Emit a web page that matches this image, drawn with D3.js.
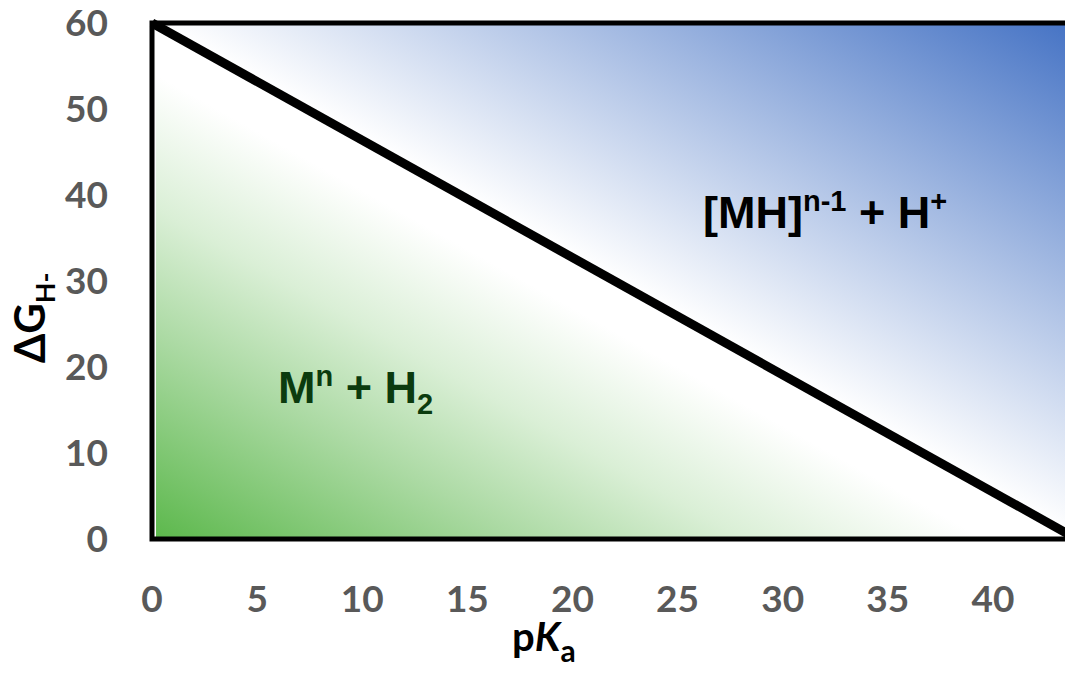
<!DOCTYPE html>
<html>
<head>
<meta charset="utf-8">
<script src="https://cdn.jsdelivr.net/npm/d3@7"></script>
<style>
  html, body { margin: 0; padding: 0; background: #fff; }
  svg { display: block; }
</style>
</head>
<body>
<div id="chart"></div>
<script>
// data
const xTicks = [0, 5, 10, 15, 20, 25, 30, 35, 40];
const yTicks = [0, 10, 20, 30, 40, 50, 60];
const pKa = [0, 44];
const dG = [60, 0];
const xDomain = [0, 44];
const yDomain = [0, 60];

const width = 1065, height = 683;

// scales (plot runs past the right edge of the picture, as in the original)
const x = d3.scaleLinear().domain(xDomain).range([152, 1077]);
const y = d3.scaleLinear().domain(yDomain).range([539, 23]);

const svg = d3.select('#chart').append('svg')
    .attr('width', width)
    .attr('height', height);

// background gradient: green lower-left -> white along the line -> blue upper-right
const defs = svg.append('defs');
const grad = defs.append('linearGradient')
    .attr('id', 'bg')
    .attr('x1', 0).attr('y1', 1)
    .attr('x2', 1).attr('y2', 0);
grad.append('stop').attr('offset', 0).attr('stop-color', '#5cb84c');
grad.append('stop').attr('offset', 0.2).attr('stop-color', '#acdaa4');
grad.append('stop').attr('offset', 0.32).attr('stop-color', '#daefd6');
grad.append('stop').attr('offset', 0.45).attr('stop-color', '#ffffff');
grad.append('stop').attr('offset', 0.5).attr('stop-color', '#ffffff');
grad.append('stop').attr('offset', 1).attr('stop-color', '#4472c4');

svg.append('rect')
    .attr('x', x(xDomain[0]) + 4)
    .attr('y', y(yDomain[1]))
    .attr('width', x(xDomain[1]) - x(xDomain[0]) - 4)
    .attr('height', y(yDomain[0]) - y(yDomain[1]))
    .attr('fill', 'url(#bg)');

// boundary line
const pts = pKa.map((d, i) => ({x: d, y: dG[i]}));
const line = d3.line()
    .x(d => x(d.x))
    .y(d => y(d.y));
svg.append('path')
    .datum(pts)
    .attr('d', line)
    .attr('fill', 'none')
    .attr('stroke', '#000')
    .attr('stroke-width', 9);

// frame
svg.append('rect')
    .attr('x', x(xDomain[0]))
    .attr('y', y(yDomain[1]))
    .attr('width', x(xDomain[1]) - x(xDomain[0]))
    .attr('height', y(yDomain[0]) - y(yDomain[1]))
    .attr('fill', 'none')
    .attr('stroke', '#000')
    .attr('stroke-width', 5);

// tick labels
const tickFont = 'Lato, "Open Sans", sans-serif';
svg.append('g').selectAll('text')
    .data(xTicks)
    .enter()
    .append('text')
    .attr('x', d => x(d))
    .attr('y', 612)
    .attr('text-anchor', 'middle')
    .style('font-family', tickFont)
    .style('font-weight', 700)
    .style('font-size', '37px')
    .attr('fill', '#595959')
    .text(d => d);

svg.append('g').selectAll('text')
    .data(yTicks)
    .enter()
    .append('text')
    .attr('x', 108)
    .attr('y', d => y(d) + 13)
    .attr('text-anchor', 'end')
    .style('font-family', tickFont)
    .style('font-weight', 700)
    .style('font-size', '37px')
    .attr('fill', '#595959')
    .text(d => d);

// x axis title: pKa
const xt = svg.append('text')
    .attr('x', 512)
    .attr('y', 651)
    .style('font-family', tickFont)
    .style('font-weight', 700)
    .style('font-size', '40px')
    .attr('fill', '#000');
xt.append('tspan').text('p');
xt.append('tspan').style('font-style', 'italic').text('K');
xt.append('tspan').attr('dy', 11).style('font-size', '30px').text('a');

// y axis title: ΔG H-
const yt = svg.append('text')
    .attr('transform', 'translate(45,363) rotate(-90)')
    .style('font-family', tickFont)
    .style('font-weight', 700)
    .style('font-size', '42px')
    .attr('fill', '#000');
yt.append('tspan').text('ΔG');
yt.append('tspan').attr('dy', 10).style('font-size', '27px').text('H-');

// region labels
const labelFont = '"Liberation Sans", Arial, sans-serif';
const upper = svg.append('text')
    .attr('x', 703)
    .attr('y', 228)
    .style('font-family', labelFont)
    .style('font-weight', 700)
    .style('font-size', '45px')
    .attr('fill', '#000');
upper.append('tspan').text('[MH]');
upper.append('tspan').attr('dy', -17).style('font-size', '29px').text('n-1');
upper.append('tspan').attr('dy', 17).text(' + H');
upper.append('tspan').attr('dy', -17).style('font-size', '29px').text('+');

const lower = svg.append('text')
    .attr('x', 278)
    .attr('y', 403)
    .style('font-family', labelFont)
    .style('font-weight', 700)
    .style('font-size', '45px')
    .attr('fill', '#0b3b0e');
lower.append('tspan').text('M');
lower.append('tspan').attr('dy', -17).style('font-size', '29px').text('n');
lower.append('tspan').attr('dy', 17).text(' + H');
lower.append('tspan').attr('dy', 11).style('font-size', '29px').text('2');
</script>
</body>
</html>
